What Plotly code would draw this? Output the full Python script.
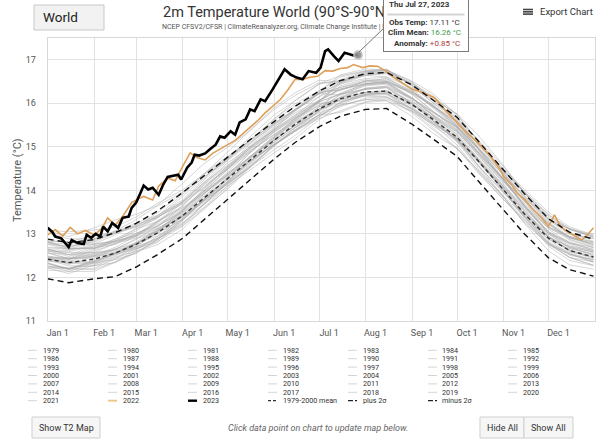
import plotly.graph_objects as go
import pandas as pd

# ---------------- data ----------------
clim_days = [0, 14, 31, 45, 59, 73, 90, 104, 120, 134, 151, 165, 181, 195, 212, 226, 243, 257, 273, 287, 304, 318, 334, 348, 364]

clim_mean = [12.42, 12.34, 12.42, 12.56, 12.76, 13.02, 13.42, 13.82, 14.28, 14.68, 15.15, 15.52, 15.87, 16.10, 16.26, 16.28, 15.97, 15.63, 15.22, 14.68, 14.02, 13.46, 12.90, 12.62, 12.47]
plus_2sd = [12.88, 12.80, 12.87, 13.03, 13.24, 13.52, 13.95, 14.33, 14.77, 15.14, 15.58, 15.93, 16.28, 16.52, 16.68, 16.71, 16.42, 16.08, 15.68, 15.14, 14.47, 13.92, 13.35, 13.04, 12.88]
minus_2sd = [11.97, 11.88, 11.97, 12.02, 12.24, 12.52, 12.90, 13.32, 13.79, 14.22, 14.72, 15.10, 15.46, 15.70, 15.86, 15.88, 15.52, 15.18, 14.78, 14.22, 13.56, 13.00, 12.45, 12.18, 12.03]

t1979 = [12.24,12.21,12.21,12.42,12.66,12.82,13.18,13.67,14.17,14.52,14.93,15.26,15.69,16.03,16.17,16.14,15.89,15.60,15.12,14.51,13.87,13.40,12.88,12.54,12.36]
t1980 = [12.32,12.19,12.39,12.57,12.70,12.90,13.41,13.86,14.24,14.60,15.15,15.49,15.78,15.96,16.19,16.23,15.87,15.48,15.13,14.64,14.02,13.41,12.78,12.46,12.36]
t1981 = [12.40,12.27,12.26,12.44,12.71,13.02,13.34,13.67,14.10,14.58,15.11,15.45,15.82,16.08,16.20,16.25,15.99,15.68,15.29,14.69,13.96,13.37,12.88,12.66,12.53]
t1982 = [12.32,12.18,12.37,12.54,12.67,12.88,13.22,13.67,14.20,14.64,15.04,15.35,15.72,15.92,16.12,16.16,15.78,15.39,14.96,14.46,13.85,13.33,12.72,12.39,12.27]
t1983 = [12.39,12.37,12.51,12.58,12.72,13.03,13.50,13.93,14.33,14.68,15.18,15.61,16.00,16.05,16.17,16.20,15.84,15.52,15.18,14.69,13.99,13.37,12.76,12.54,12.35]
t1984 = [12.26,12.23,12.27,12.34,12.57,12.88,13.19,13.55,14.06,14.53,15.04,15.36,15.65,15.83,16.04,16.10,15.82,15.43,14.97,14.40,13.80,13.29,12.76,12.46,12.28]
t1985 = [12.17,12.14,12.14,12.35,12.59,12.75,13.11,13.60,14.10,14.45,14.86,15.19,15.62,15.95,16.09,16.06,15.81,15.52,15.04,14.43,13.79,13.32,12.80,12.46,12.28]
t1986 = [12.22,12.09,12.29,12.47,12.60,12.80,13.31,13.76,14.14,14.50,15.05,15.39,15.68,16.01,16.24,16.28,15.92,15.53,15.18,14.69,14.07,13.46,12.83,12.51,12.41]
t1987 = [12.45,12.32,12.31,12.49,12.76,13.07,13.39,13.72,14.15,14.63,15.16,15.50,15.87,16.20,16.32,16.37,16.11,15.80,15.41,14.81,14.08,13.49,13.00,12.78,12.65]
t1988 = [12.56,12.42,12.61,12.78,12.91,13.12,13.46,13.91,14.44,14.88,15.28,15.59,15.96,16.12,16.32,16.36,15.98,15.59,15.16,14.66,14.05,13.53,12.92,12.59,12.47]
t1989 = [12.22,12.20,12.34,12.41,12.55,12.86,13.33,13.76,14.16,14.51,15.01,15.44,15.83,16.08,16.20,16.23,15.87,15.55,15.21,14.72,14.02,13.40,12.79,12.57,12.38]
t1990 = [12.46,12.43,12.47,12.54,12.77,13.08,13.39,13.75,14.26,14.73,15.24,15.56,15.85,16.13,16.34,16.40,16.12,15.73,15.27,14.70,14.10,13.59,13.06,12.76,12.58]
t1991 = [12.47,12.44,12.44,12.65,12.89,13.05,13.41,13.90,14.40,14.75,15.16,15.49,15.92,16.10,16.24,16.21,15.96,15.67,15.19,14.58,13.94,13.47,12.95,12.61,12.43]
t1992 = [12.27,12.14,12.34,12.52,12.65,12.85,13.36,13.81,14.19,14.55,15.10,15.44,15.73,15.79,16.02,16.06,15.70,15.31,14.96,14.47,13.85,13.24,12.61,12.29,12.19]
t1993 = [12.32,12.19,12.18,12.36,12.63,12.94,13.26,13.59,14.02,14.50,15.03,15.37,15.74,15.96,16.08,16.13,15.87,15.56,15.17,14.57,13.84,13.25,12.76,12.54,12.41]
t1994 = [12.34,12.20,12.39,12.56,12.69,12.90,13.24,13.69,14.22,14.66,15.06,15.37,15.74,16.15,16.35,16.39,16.01,15.62,15.19,14.69,14.08,13.56,12.95,12.62,12.50]
t1995 = [12.42,12.40,12.54,12.61,12.75,13.06,13.53,13.96,14.36,14.71,15.21,15.64,16.03,16.21,16.33,16.36,16.00,15.68,15.34,14.85,14.15,13.53,12.92,12.70,12.51]
t1996 = [12.48,12.45,12.49,12.56,12.79,13.10,13.41,13.77,14.28,14.75,15.26,15.58,15.87,16.00,16.21,16.27,15.99,15.60,15.14,14.57,13.97,13.46,12.93,12.63,12.45]
t1997 = [12.37,12.34,12.34,12.55,12.79,12.95,13.31,13.80,14.30,14.65,15.06,15.39,15.82,16.40,16.54,16.51,16.26,15.97,15.49,14.88,14.24,13.77,13.25,12.91,12.73]
t1998 = [12.77,12.64,12.84,13.02,13.15,13.35,13.86,14.31,14.69,15.05,15.60,15.94,16.23,16.19,16.42,16.46,16.10,15.71,15.36,14.87,14.25,13.64,13.01,12.69,12.59]
t1999 = [12.50,12.37,12.36,12.54,12.81,13.12,13.44,13.77,14.20,14.68,15.21,15.55,15.92,16.13,16.25,16.30,16.04,15.73,15.34,14.74,14.01,13.42,12.93,12.71,12.58]
t2000 = [12.44,12.30,12.49,12.66,12.79,13.00,13.34,13.79,14.32,14.76,15.16,15.47,15.84,16.20,16.40,16.44,16.06,15.67,15.24,14.74,14.13,13.61,13.00,12.67,12.55]
t2001 = [12.44,12.42,12.56,12.63,12.77,13.08,13.55,13.98,14.38,14.73,15.23,15.66,16.05,16.33,16.45,16.48,16.12,15.80,15.46,14.97,14.27,13.65,13.04,12.82,12.63]
t2002 = [12.68,12.65,12.69,12.76,12.99,13.30,13.61,13.97,14.48,14.95,15.46,15.78,16.07,16.30,16.51,16.57,16.29,15.90,15.44,14.87,14.27,13.76,13.23,12.93,12.75]
t2003 = [12.70,12.67,12.67,12.88,13.12,13.28,13.64,14.13,14.63,14.98,15.39,15.72,16.15,16.37,16.51,16.48,16.23,15.94,15.46,14.85,14.21,13.74,13.22,12.88,12.70]
t2004 = [12.57,12.44,12.64,12.82,12.95,13.15,13.66,14.11,14.49,14.85,15.40,15.74,16.03,16.22,16.45,16.49,16.13,15.74,15.39,14.90,14.28,13.67,13.04,12.72,12.62]
t2005 = [12.80,12.67,12.66,12.84,13.11,13.42,13.74,14.07,14.50,14.98,15.51,15.85,16.22,16.36,16.48,16.53,16.27,15.96,15.57,14.97,14.24,13.65,13.16,12.94,12.81]
t2006 = [12.66,12.52,12.71,12.88,13.01,13.22,13.56,14.01,14.54,14.98,15.38,15.69,16.06,16.44,16.64,16.68,16.30,15.91,15.48,14.98,14.37,13.85,13.24,12.91,12.79]
t2007 = [12.64,12.62,12.76,12.83,12.97,13.28,13.75,14.18,14.58,14.93,15.43,15.86,16.25,16.31,16.43,16.46,16.10,15.78,15.44,14.95,14.25,13.63,13.02,12.80,12.61]
t2008 = [12.56,12.53,12.57,12.64,12.87,13.18,13.49,13.85,14.36,14.83,15.34,15.66,15.95,16.23,16.44,16.50,16.22,15.83,15.37,14.80,14.20,13.69,13.16,12.86,12.68]
t2009 = [12.60,12.57,12.57,12.78,13.02,13.18,13.54,14.03,14.53,14.88,15.29,15.62,16.05,16.50,16.64,16.61,16.36,16.07,15.59,14.98,14.34,13.87,13.35,13.01,12.83]
t2010 = [12.82,12.69,12.89,13.07,13.20,13.40,13.91,14.36,14.74,15.10,15.65,15.99,16.28,16.29,16.52,16.56,16.20,15.81,15.46,14.97,14.35,13.74,13.11,12.79,12.69]
t2011 = [12.65,12.52,12.51,12.69,12.96,13.27,13.59,13.92,14.35,14.83,15.36,15.70,16.07,16.33,16.45,16.50,16.24,15.93,15.54,14.94,14.21,13.62,13.13,12.91,12.78]
t2012 = [12.62,12.48,12.67,12.84,12.97,13.18,13.52,13.97,14.50,14.94,15.34,15.65,16.02,16.47,16.67,16.71,16.33,15.94,15.51,15.01,14.40,13.88,13.27,12.94,12.82]
t2013 = [12.61,12.59,12.73,12.80,12.94,13.25,13.72,14.15,14.55,14.90,15.40,15.83,16.22,16.45,16.57,16.60,16.24,15.92,15.58,15.09,14.39,13.77,13.16,12.94,12.75]
t2014 = [12.76,12.73,12.77,12.84,13.07,13.38,13.69,14.05,14.56,15.03,15.54,15.86,16.15,16.50,16.71,16.77,16.49,16.10,15.64,15.07,14.47,13.96,13.43,13.13,12.95]
t2015 = [12.80,12.77,12.77,12.98,13.22,13.38,13.74,14.23,14.73,15.08,15.49,15.82,16.25,16.65,16.79,16.76,16.51,16.22,15.74,15.13,14.49,14.02,13.50,13.16,12.98]
t2016 = [13.07,12.94,13.14,13.32,13.45,13.65,14.16,14.61,14.99,15.35,15.90,16.24,16.53,16.49,16.72,16.76,16.40,16.01,15.66,15.17,14.55,13.94,13.31,12.99,12.89]
t2017 = [13.02,12.89,12.88,13.06,13.33,13.64,13.96,14.29,14.72,15.20,15.73,16.07,16.44,16.53,16.65,16.70,16.44,16.13,15.74,15.14,14.41,13.82,13.33,13.11,12.98]
t2018 = [12.82,12.68,12.87,13.04,13.17,13.38,13.72,14.17,14.70,15.14,15.54,15.85,16.22,16.54,16.74,16.78,16.40,16.01,15.58,15.08,14.47,13.95,13.34,13.01,12.89]
t2019 = [12.84,12.82,12.96,13.03,13.17,13.48,13.95,14.38,14.78,15.13,15.63,16.06,16.45,16.63,16.75,16.78,16.42,16.10,15.76,15.27,14.57,13.95,13.34,13.12,12.93]
t2020 = [13.08,13.05,13.09,13.16,13.39,13.70,14.01,14.37,14.88,15.35,15.86,16.18,16.47,16.47,16.68,16.74,16.46,16.07,15.61,15.04,14.44,13.93,13.40,13.10,12.92]
t2021 = [12.84,12.81,12.81,13.02,13.26,13.42,13.78,14.27,14.77,15.12,15.53,15.86,16.29,16.60,16.74,16.71,16.46,16.17,15.69,15.08,14.44,13.97,13.45,13.11,12.93]

grey_years = {
    1979: t1979, 1980: t1980, 1981: t1981, 1982: t1982, 1983: t1983, 1984: t1984, 1985: t1985,
    1986: t1986, 1987: t1987, 1988: t1988, 1989: t1989, 1990: t1990, 1991: t1991, 1992: t1992,
    1993: t1993, 1994: t1994, 1995: t1995, 1996: t1996, 1997: t1997, 1998: t1998, 1999: t1999,
    2000: t2000, 2001: t2001, 2002: t2002, 2003: t2003, 2004: t2004, 2005: t2005, 2006: t2006,
    2007: t2007, 2008: t2008, 2009: t2009, 2010: t2010, 2011: t2011, 2012: t2012, 2013: t2013,
    2014: t2014, 2015: t2015, 2016: t2016, 2017: t2017, 2018: t2018, 2019: t2019, 2020: t2020,
    2021: t2021,
}

days_2022 = [0, 5, 10, 15, 20, 25, 31, 36, 40, 45, 50, 56, 60, 64, 70, 74, 80, 85, 90, 95, 100, 105, 110, 115, 120, 125,
             130, 135, 140, 145, 150, 155, 160, 165, 170, 175, 180, 185, 190, 195, 200, 204, 210, 215, 220, 225, 230, 235,
             240, 243, 250, 258, 265, 273, 280, 287, 295, 302, 304, 310, 313, 318, 324, 330, 334, 338, 342, 347, 352, 356, 360, 364]
t2022 = [12.98, 13.10, 12.95, 13.15, 13.00, 13.08, 12.98, 13.12, 13.37, 13.20, 13.40, 13.72, 13.80, 13.86, 13.78, 14.10,
         14.28, 14.22, 14.55, 14.86, 14.75, 14.70, 14.85, 14.95, 15.05, 15.15, 15.30, 15.45, 15.60, 15.78, 15.92, 16.08,
         16.30, 16.55, 16.55, 16.60, 16.62, 16.75, 16.74, 16.80, 16.82, 16.89, 16.82, 16.86, 16.85, 16.75, 16.62, 16.51,
         16.40, 16.32, 16.25, 16.13, 15.85, 15.55, 15.30, 15.09, 14.80, 14.47, 14.32, 14.10, 13.94, 13.80, 13.55, 13.35,
         13.17, 13.44, 13.17, 13.05, 12.95, 12.86, 12.98, 13.14]

days_2023 = [0, 3, 5, 9, 14, 16, 20, 24, 26, 29, 32, 35, 37, 40, 43, 47, 50, 54, 56, 59, 62, 64, 67, 70, 74, 77, 80, 84,
             87, 89, 93, 96, 98, 101, 105, 108, 112, 115, 118, 122, 125, 128, 132, 135, 138, 142, 145, 150, 154, 158,
             162, 166, 170, 174, 179, 182, 185, 187, 191, 194, 198, 202, 204, 207]
t2023 = [13.14, 13.05, 12.94, 12.90, 12.70, 12.86, 12.79, 12.77, 12.98, 12.91, 13.00, 12.94, 13.17, 13.06, 13.25, 13.14,
         13.37, 13.40, 13.60, 13.72, 13.95, 14.11, 14.02, 14.06, 13.90, 14.13, 14.31, 14.34, 14.36, 14.25, 14.52, 14.64,
         14.82, 14.80, 14.85, 14.94, 15.05, 15.24, 15.21, 15.36, 15.28, 15.56, 15.63, 15.86, 15.82, 16.09, 16.05, 16.32,
         16.55, 16.78, 16.66, 16.59, 16.55, 16.74, 16.70, 16.82, 17.20, 17.24, 17.08, 16.97, 17.16, 17.12, 17.10, 17.11]

month_ticks = ["2001-01-01", "2001-02-01", "2001-03-01", "2001-04-01", "2001-05-01", "2001-06-01",
               "2001-07-01", "2001-08-01", "2001-09-01", "2001-10-01", "2001-11-01", "2001-12-01"]
y_ticks = [11, 12, 13, 14, 15, 16, 17]

legend_labels = [str(y) for y in range(1979, 2024)] + ["1979-2000 mean", "plus 2σ", "minus 2σ"]

# ---------------- helpers ----------------
W, H = 603, 442
BASE = pd.Timestamp("2001-01-01")


def to_dates(days):
    return [BASE + pd.Timedelta(days=d) for d in days]


def px(x):
    return x / W


def py(y):
    return 1 - y / H


FONT = "Roboto"
GREY = "rgba(165,165,165,0.45)"
ORANGE = "#dea058"

fig = go.Figure()

for yr, vals in grey_years.items():
    fig.add_trace(go.Scatter(x=to_dates(clim_days), y=vals, mode="lines",
                             line=dict(color=GREY, width=1), name=str(yr),
                             showlegend=False, hoverinfo="skip"))

fig.add_trace(go.Scatter(x=to_dates(days_2022), y=t2022, mode="lines",
                         line=dict(color=ORANGE, width=1.6), name="2022", showlegend=False))

fig.add_trace(go.Scatter(x=to_dates(clim_days), y=clim_mean, mode="lines",
                         line=dict(color="#333333", width=1.4, dash="4px,3px"),
                         name="1979-2000 mean", showlegend=False))
fig.add_trace(go.Scatter(x=to_dates(clim_days), y=plus_2sd, mode="lines",
                         line=dict(color="#111111", width=1.4, dash="6px,4px"),
                         name="plus 2σ", showlegend=False))
fig.add_trace(go.Scatter(x=to_dates(clim_days), y=minus_2sd, mode="lines",
                         line=dict(color="#111111", width=1.4, dash="6px,4px"),
                         name="minus 2σ", showlegend=False))

fig.add_trace(go.Scatter(x=to_dates(days_2023), y=t2023, mode="lines",
                         line=dict(color="#000000", width=2.6), name="2023", showlegend=False))
fig.add_trace(go.Scatter(x=to_dates(days_2023[-1:]), y=t2023[-1:], mode="markers",
                         marker=dict(color="rgba(140,140,140,0.9)", size=8,
                                     line=dict(color="rgba(200,200,200,0.8)", width=2)),
                         showlegend=False, hoverinfo="skip"))

shapes = []
annotations = []


def note(x, y, text, size, color="#333333", xanchor="left", **kw):
    annotations.append(dict(x=px(x), y=py(y), xref="paper", yref="paper", xanchor=xanchor, yanchor="middle",
                            text=text, showarrow=False, font=dict(family=FONT, size=size, color=color), **kw))


# title / subtitle
note(161, 12, "2m Temperature World (90°S-90°N)", 14.5)
note(160, 27, "NCEP CFSV2/CFSR | ClimateReanalyzer.org, Climate Change Institute | University of Maine", 7,
     color="#555555")

# World selector
shapes.append(dict(type="rect", xref="paper", yref="paper", x0=px(34), x1=px(104), y0=py(30), y1=py(5),
                   fillcolor="#f2f2f2", line=dict(color="#c8c8c8", width=1)))
note(41, 17.5, "World", 13.5, color="#222222")

# Export chart
for yy in (9.5, 11.8, 14.1):
    shapes.append(dict(type="line", xref="paper", yref="paper", x0=px(523), x1=px(533), y0=py(yy), y1=py(yy),
                       line=dict(color="#444444", width=1.6)))
note(538, 11.8, "Export Chart", 9.5)

# y-axis title
note(17, 180, "Temperature (°C)", 11, color="#555555", xanchor="center", textangle=-90)

# tooltip (box is an annotation so it covers the title text)
shapes.append(dict(type="line", xref="paper", yref="paper", x0=px(385), y0=py(27), x1=px(359), y1=py(52),
                   line=dict(color="#777777", width=1)))
annotations.append(dict(x=px(383), y=py(-6), xref="paper", yref="paper", xanchor="left", yanchor="top",
                        text=" ", showarrow=False, width=84, height=56, bgcolor="rgba(255,255,255,0.98)",
                        bordercolor="#7a7a7a", borderwidth=1, borderpad=0, font=dict(size=4)))
annotations.append(dict(x=px(387), y=py(14), xref="paper", yref="paper", xanchor="left", yanchor="middle",
                        text=" ", showarrow=False, width=76, height=1, bgcolor="#d4d4d4", borderpad=0,
                        font=dict(size=1)))
note(387, 5, "<b>Thu Jul 27, 2023</b>", 8)
note(462, 22.5, "<b>Obs Temp:</b> 17.11 °C", 8, xanchor="right")
note(463, 33, "<b>Clim Mean:</b> <span style='color:#3f9a4a'>16.26 °C</span>", 8, xanchor="right")
note(462, 43.5, "<b>Anomaly:</b> <span style='color:#b03a3a'>+0.85 °C</span>", 8, xanchor="right")

# legend (7 columns)
for k, lab in enumerate(legend_labels):
    r_, c_ = divmod(k, 7)
    yy = 350.3 + 8.4 * r_
    x0 = 28 + 80 * c_
    if lab == "2023":
        ln = dict(color="#000000", width=2.4)
    elif lab == "2022":
        ln = dict(color="#f0c88c", width=2)
    elif lab == "1979-2000 mean":
        ln = dict(color="#333333", width=1.3, dash="3px,2px")
    elif lab in ("plus 2σ", "minus 2σ"):
        ln = dict(color="#222222", width=1.3, dash="5px,2px")
    else:
        ln = dict(color="#d4d4d4", width=1)
    shapes.append(dict(type="line", xref="paper", yref="paper", x0=px(x0), x1=px(x0 + 9), y0=py(yy), y1=py(yy),
                       line=ln))
    note(40.5 + 80 * c_, yy, lab, 7.2)

# buttons and note
for (bx0, bx1, lab) in [(32, 100, "Show T2 Map"), (480, 524, "Hide All"), (524, 573, "Show All")]:
    shapes.append(dict(type="rect", xref="paper", yref="paper", x0=px(bx0), x1=px(bx1), y0=py(438), y1=py(417),
                       fillcolor="#f6f6f6", line=dict(color="#cfcfcf", width=1)))
    note((bx0 + bx1) / 2, 427.5, lab, 9, xanchor="center")
note(318, 428, "<i>Click data point on chart to update map below.</i>", 9, color="#666666", xanchor="center")

fig.update_layout(
    width=W, height=H,
    margin=dict(l=0, r=0, t=0, b=0, pad=0),
    paper_bgcolor="white", plot_bgcolor="white",
    showlegend=False,
    font=dict(family=FONT),
    xaxis=dict(type="date", range=["2001-01-01", "2002-01-01"], domain=[px(47.7), px(595)],
               tickvals=month_ticks, tickformat="%b %-d", ticklabelshift=10, ticklabelstandoff=3,
               showgrid=True, gridcolor="#e2e2e2", gridwidth=1,
               showline=True, linecolor="#d8d8d8", mirror=True, ticks="",
               tickfont=dict(family=FONT, size=9, color="#555555"), automargin=False, fixedrange=True),
    yaxis=dict(range=[11, 17.5], domain=[py(321), py(38)], tickvals=y_ticks,
               showgrid=True, gridcolor="#e2e2e2", gridwidth=1, zeroline=False,
               showline=True, linecolor="#d8d8d8", mirror=True, ticks="", ticklabelstandoff=9,
               tickfont=dict(family=FONT, size=9, color="#555555"), automargin=False, fixedrange=True),
    shapes=shapes,
    annotations=annotations,
    hovermode=False,
)

fig.write_html("out.html")
